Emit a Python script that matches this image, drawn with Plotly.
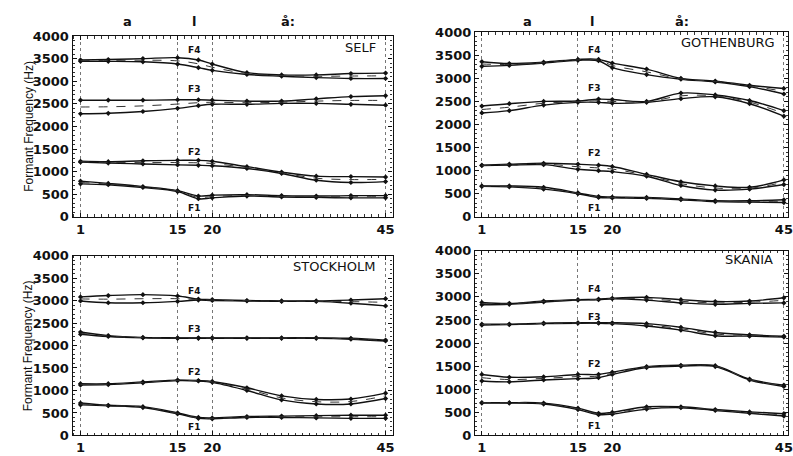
import plotly.graph_objects as go

# Frame indices at which values were read
FRAMES = [1, 5, 10, 15, 18, 20, 25, 30, 35, 40, 45]
FORMANTS = ["F1", "F2", "F3", "F4"]
PANELS = ["SELF", "GOTHENBURG", "STOCKHOLM", "SKANIA"]
X_TICKS = [1, 15, 20, 45]
Y_TICKS = [0, 500, 1000, 1500, 2000, 2500, 3000, 3500, 4000]
SEGMENTS = ["a", "l", "å:"]

# lower / upper envelope (mean -/+ SD), rows = F1..F4
SELF_LO = [
    [730, 710, 650, 560, 400, 420, 460, 440, 430, 420, 420],
    [1210, 1190, 1170, 1150, 1140, 1130, 1070, 960, 810, 760, 780],
    [2280, 2290, 2330, 2400, 2460, 2490, 2490, 2510, 2510, 2490, 2470],
    [3440, 3440, 3430, 3380, 3300, 3240, 3150, 3110, 3080, 3060, 3060],
]
SELF_HI = [
    [790, 740, 670, 580, 460, 480, 490, 470, 460, 470, 470],
    [1230, 1220, 1240, 1250, 1250, 1230, 1110, 990, 900, 890, 880],
    [2580, 2580, 2580, 2590, 2590, 2580, 2560, 2560, 2610, 2660, 2680],
    [3470, 3480, 3500, 3520, 3470, 3380, 3190, 3140, 3140, 3170, 3180],
]
GOTH_LO = [
    [660, 650, 600, 500, 420, 410, 400, 370, 330, 320, 310],
    [1110, 1120, 1130, 1030, 1000, 980, 880, 680, 580, 600, 700],
    [2250, 2300, 2420, 2480, 2480, 2460, 2480, 2560, 2600, 2450, 2180],
    [3260, 3280, 3330, 3390, 3380, 3230, 3080, 2980, 2920, 2820, 2660],
]
GOTH_HI = [
    [670, 670, 640, 520, 440, 430, 420, 390, 350, 350, 370],
    [1120, 1140, 1160, 1140, 1120, 1090, 920, 760, 670, 640, 800],
    [2400, 2450, 2500, 2510, 2550, 2540, 2500, 2680, 2640, 2520, 2300],
    [3360, 3320, 3350, 3410, 3410, 3330, 3200, 3000, 2940, 2850, 2780],
]
STOCK_LO = [
    [680, 660, 620, 480, 380, 370, 400, 400, 390, 380, 380],
    [1120, 1130, 1170, 1220, 1210, 1180, 1000, 790, 700, 700, 820],
    [2250, 2200, 2170, 2160, 2160, 2160, 2160, 2160, 2160, 2140, 2100],
    [2990, 2950, 2950, 2980, 3010, 3000, 2990, 2980, 2980, 2940, 2880],
]
STOCK_HI = [
    [720, 670, 640, 500, 400, 390, 420, 430, 440, 450, 450],
    [1150, 1150, 1190, 1230, 1220, 1200, 1060, 880, 800, 810, 940],
    [2300, 2220, 2180, 2170, 2170, 2170, 2170, 2170, 2170, 2160, 2120],
    [3080, 3110, 3130, 3100, 3030, 3020, 3000, 2990, 2990, 3010, 3040],
]
SKAN_LO = [
    [700, 700, 680, 560, 450, 460, 570, 600, 540, 480, 420],
    [1180, 1160, 1200, 1230, 1250, 1320, 1470, 1500, 1490, 1200, 1060],
    [2390, 2400, 2420, 2430, 2430, 2420, 2370, 2280, 2160, 2150, 2130],
    [2830, 2840, 2890, 2930, 2940, 2960, 2930, 2870, 2840, 2860, 2870],
]
SKAN_HI = [
    [710, 710, 700, 590, 480, 500, 620, 620, 560, 510, 470],
    [1320, 1260, 1270, 1320, 1320, 1370, 1490, 1520, 1510, 1220, 1090],
    [2410, 2410, 2430, 2440, 2440, 2440, 2420, 2340, 2230, 2180, 2150],
    [2880, 2860, 2910, 2940, 2950, 2970, 2990, 2940, 2900, 2910, 2980],
]
# formant label heights per panel (F1..F4)
LABEL_Y = [
    [190, 1440, 2820, 3700],
    [190, 1380, 2780, 3610],
    [180, 1420, 2370, 3220],
    [210, 1540, 2570, 3170],
]

LOWS = [SELF_LO, GOTH_LO, STOCK_LO, SKAN_LO]
HIGHS = [SELF_HI, GOTH_HI, STOCK_HI, SKAN_HI]

W, H = 793, 456
def px_x(a, b):
    return [a / W, b / W]
def px_y(top, bottom):
    return [1 - bottom / H, 1 - top / H]

DOMAINS = [
    (px_x(73, 395), px_y(30, 217), [-0.15, 46.0]),
    (px_x(478, 793), px_y(26, 217), [0.0, 45.6]),
    (px_x(73, 395), px_y(257, 443), [-0.15, 46.0]),
    (px_x(478, 793), px_y(252, 443), [0.0, 45.6]),
]

fig = go.Figure()
font = "DejaVu Sans, Arial, sans-serif"

for p in range(4):
    xa = "x" if p == 0 else f"x{p+1}"
    ya = "y" if p == 0 else f"y{p+1}"
    for f in range(4):
        lo = LOWS[p][f]
        hi = HIGHS[p][f]
        mean = [(a + b) / 2 for a, b in zip(lo, hi)]
        for series in (hi, lo):
            fig.add_trace(go.Scatter(
                x=FRAMES, y=series, xaxis=xa, yaxis=ya, mode="lines+markers",
                line=dict(color="#111", width=1.4, shape="spline"),
                marker=dict(symbol="diamond", size=4, color="#111"),
                showlegend=False, hoverinfo="skip"))
        fig.add_trace(go.Scatter(
            x=FRAMES, y=mean, xaxis=xa, yaxis=ya, mode="lines",
            line=dict(color="#333", width=1, shape="spline", dash="dash"),
            showlegend=False, hoverinfo="skip"))
        fig.add_annotation(x=17.3, y=LABEL_Y[p][f], xref=xa, yref=ya,
                           xanchor="center", yanchor="middle",
                           text=f"<b>{FORMANTS[f]}</b>", showarrow=False,
                           font=dict(family=font, size=9, color="#111"))

    dom_x, dom_y, xr = DOMAINS[p]
    xkey = "xaxis" if p == 0 else f"xaxis{p+1}"
    ykey = "yaxis" if p == 0 else f"yaxis{p+1}"
    fig.layout[xkey] = dict(
        domain=dom_x, anchor=ya, range=xr, tickvals=X_TICKS,
        ticktext=[str(v) for v in X_TICKS],
        showgrid=True, gridcolor="#777", griddash="dot", gridwidth=1,
        zeroline=False, showline=True, linecolor="#111", linewidth=1.2,
        mirror="allticks", ticks="inside", ticklen=4, tickcolor="#111",
        minor=dict(dtick=1, tick0=0, ticks="inside", ticklen=2.5, tickcolor="#333", showgrid=False),
        tickfont=dict(family=font, size=13, color="#111", weight="bold"),
        ticklabelstandoff=0, ticklabeloverflow="allow",
    )
    fig.layout[ykey] = dict(
        domain=dom_y, anchor=xa, range=[0, 4000], tickvals=Y_TICKS,
        showgrid=False, zeroline=False, showline=True, linecolor="#111",
        linewidth=1.2, mirror="allticks", ticks="inside", ticklen=4, tickcolor="#111",
        minor=dict(dtick=100, ticks="inside", ticklen=2, tickcolor="#333"),
        tickfont=dict(family=font, size=13, color="#111", weight="bold"),
        ticklabelstandoff=0, ticklabeloverflow="allow",
    )

# panel names
NAME_POS = [(380, 42), (782, 37), (380, 268), (780, 261)]
for name, (px, py) in zip(PANELS, NAME_POS):
    fig.add_annotation(x=px / W, y=1 - py / H, xref="paper", yref="paper",
                       xanchor="right", yanchor="middle", showarrow=False,
                       text=name, font=dict(family=font, size=13, color="#111"))

# segment labels above the top panels
SEG_X = [[128, 195, 290], [531, 596, 686]]
for row in SEG_X:
    for s, px in zip(SEGMENTS, row):
        fig.add_annotation(x=px / W, y=1 - 15 / H, xref="paper", yref="paper",
                           xanchor="center", yanchor="middle",
                           showarrow=False, text=f"<b>{s}</b>",
                           font=dict(family=font, size=13, color="#111"))

# y-axis titles
for cy in (123, 350):
    fig.add_annotation(x=29 / W, y=1 - cy / H, xref="paper", yref="paper",
                       xanchor="center", yanchor="middle",
                       showarrow=False, textangle=-90,
                       text="Formant Frequency (Hz)",
                       font=dict(family="Liberation Sans, Arial, sans-serif", size=12, color="#111"))

fig.update_layout(width=W, height=H, margin=dict(l=0, r=0, t=0, b=0),
                  paper_bgcolor="white", plot_bgcolor="white")

fig.write_html("out.html", config={"displayModeBar": False},
               post_script="document.body.style.margin='0';document.body.style.overflow='hidden';")
